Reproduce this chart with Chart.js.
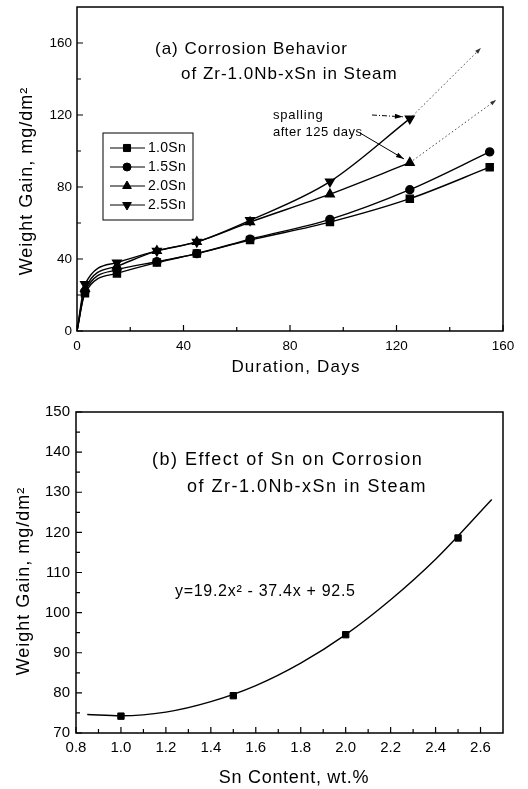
<!DOCTYPE html>
<html>
<head>
<meta charset="utf-8">
<script src="https://cdn.jsdelivr.net/npm/chart.js@4.4.0/dist/chart.umd.min.js"></script>
<style>
  html, body { margin: 0; padding: 0; background: #fff; }
  #wrap { position: relative; width: 528px; height: 789px; }
  canvas { position: absolute; left: 0; }
  #chart-a { top: 0; }
  #chart-b { top: 395px; }
</style>
</head>
<body>
<div id="wrap">
  <canvas id="chart-a" width="528" height="395"></canvas>
  <canvas id="chart-b" width="528" height="394"></canvas>
</div>
<script>
const FONT = "'Liberation Sans', Arial, sans-serif"

// (a) weight gain vs. duration
const days = [0, 3, 15, 30, 45, 65, 95, 125, 155]
const gain10Sn = [0, 21, 32, 38, 43, 50.5, 60.5, 73.5, 91]
const gain15Sn = [0, 22, 34, 38.5, 43, 51, 62, 78.5, 99.5]
const days20 = [0, 3, 15, 30, 45, 65, 95, 125]
const gain20Sn = [0, 23.5, 36, 44.5, 49.5, 60.5, 76, 93.5]
const gain25Sn = [0, 26, 38, 44.5, 49.5, 61.5, 83, 118]
// spalling extrapolation (dotted)
const spallDays25 = [125, 151.7]
const spallGain25 = [118, 157.2]
const spallDays20 = [125, 157.4]
const spallGain20 = [93.5, 128.3]
// note arrows: [x0, y0, x1, y1] in data units
const noteArrow25 = [110.8, 120, 122.4, 119]
const noteArrow20 = [106.3, 110, 122.8, 95.6]

// (b) weight gain vs. Sn content
const snContent = [1.0, 1.5, 2.0, 2.5]
const snGain = [74.2, 79.3, 94.5, 118.6]
const fitX = [0.85, 1.0, 1.2, 1.4, 1.6, 1.8, 2.0, 2.2, 2.4, 2.65]
const fitY = [74.6, 74.3, 75.2, 77.8, 81.8, 87.4, 94.5, 103.2, 113.3, 128.2]

const pts = (xs, ys) => xs.map((x, i) => ({ x, y: ys[i] }))

function drawText(ctx, text, x, y, size, spacing, align, rot) {
  ctx.save()
  ctx.font = size + 'px ' + FONT
  ctx.fillStyle = '#000'
  ctx.textAlign = align || 'left'
  ctx.textBaseline = 'middle'
  ctx.letterSpacing = (spacing || 0) + 'px'
  ctx.translate(x, y)
  if (rot) ctx.rotate(rot)
  ctx.fillText(text, 0, 0)
  ctx.restore()
}

function arrowHead(ctx, x0, y0, x1, y1, len, wid) {
  const a = Math.atan2(y1 - y0, x1 - x0)
  ctx.save()
  ctx.translate(x1, y1)
  ctx.rotate(a)
  ctx.beginPath()
  ctx.moveTo(0, 0)
  ctx.lineTo(-len, -wid / 2)
  ctx.lineTo(-len, wid / 2)
  ctx.closePath()
  ctx.fill()
  ctx.restore()
}

// frame + inward ticks (major from the scale, minor halfway)
const frameTicks = {
  id: 'frameTicks',
  afterDatasetsDraw(chart) {
    const { ctx, chartArea: a, scales } = chart
    ctx.save()
    ctx.strokeStyle = '#000'
    ctx.lineWidth = 1.5
    ctx.strokeRect(a.left, a.top, a.right - a.left, a.bottom - a.top)
    ctx.lineWidth = 1.2
    const tickSet = (scale, horiz) => {
      const vals = scale.ticks.map(t => t.value)
      const minors = []
      for (let i = 0; i < vals.length - 1; i++) minors.push((vals[i] + vals[i + 1]) / 2)
      ctx.beginPath()
      const mark = (v, len) => {
        const p = scale.getPixelForValue(v)
        if (horiz) { ctx.moveTo(p, a.bottom); ctx.lineTo(p, a.bottom - len) }
        else { ctx.moveTo(a.left, p); ctx.lineTo(a.left + len, p) }
      }
      vals.forEach(v => mark(v, 6))
      minors.forEach(v => mark(v, 4))
      ctx.stroke()
    }
    tickSet(scales.x, true)
    tickSet(scales.y, false)
    ctx.restore()
  }
}

function axisOpts(min, max, step, size, pad, fix, keep, fmt) {
  return {
    type: 'linear',
    min, max,
    grid: { display: false, drawTicks: false },
    border: { display: false },
    afterFit: s => {
      fix(s)
      s.paddingTop = 0; s.paddingBottom = 0
      s.paddingLeft = 0; s.paddingRight = 0
    },
    afterBuildTicks: s => { s.ticks = s.ticks.filter(t => keep(t.value)) },
    ticks: {
      stepSize: step,
      includeBounds: false,
      padding: pad,
      color: '#000',
      font: { family: FONT, size },
      callback: fmt || (v => v)
    }
  }
}

// ---------- chart (a) ----------
const seriesA = [
  { label: '1.0Sn', xs: days, ys: gain10Sn, style: 'rect', r: 5, rot: 0 },
  { label: '1.5Sn', xs: days, ys: gain15Sn, style: 'circle', r: 4, rot: 0 },
  { label: '2.0Sn', xs: days20, ys: gain20Sn, style: 'triangle', r: 5, rot: 0 },
  { label: '2.5Sn', xs: days20, ys: gain25Sn, style: 'triangle', r: 5, rot: 180 }
]

const annotA = {
  id: 'annotA',
  afterDatasetsDraw(chart) {
    const { ctx, scales: { x, y } } = chart
    // titles
    drawText(ctx, '(a) Corrosion Behavior', 155, 49, 17, 1)
    drawText(ctx, 'of Zr-1.0Nb-xSn in Steam', 181, 74, 17, 1)
    drawText(ctx, 'Duration, Days', 296, 367, 17, 1.2, 'center')
    drawText(ctx, 'Weight Gain, mg/dm\u00B2', 27, 181, 18, 1, 'center', -Math.PI / 2)
    // spalling note
    drawText(ctx, 'spalling', 273, 115, 13, 0.8)
    drawText(ctx, 'after 125 days', 273, 132, 13, 0.5)
    ctx.save()
    ctx.strokeStyle = '#000'
    ctx.fillStyle = '#000'
    ctx.lineWidth = 1
    const arrow = (c, dash) => {
      const x0 = x.getPixelForValue(c[0]), y0 = y.getPixelForValue(c[1])
      const x1 = x.getPixelForValue(c[2]), y1 = y.getPixelForValue(c[3])
      ctx.setLineDash(dash)
      ctx.beginPath(); ctx.moveTo(x0, y0); ctx.lineTo(x1, y1); ctx.stroke()
      ctx.setLineDash([])
      arrowHead(ctx, x0, y0, x1, y1, 8, 5)
    }
    arrow(noteArrow25, [5, 2, 1, 2])
    arrow(noteArrow20, [])
    // heads of the dotted extrapolations
    ctx.fillStyle = '#333'
    ;[[spallDays25, spallGain25], [spallDays20, spallGain20]].forEach(([xs, ys]) => {
      arrowHead(ctx, x.getPixelForValue(xs[0]), y.getPixelForValue(ys[0]),
        x.getPixelForValue(xs[1]), y.getPixelForValue(ys[1]), 6, 4)
    })
    ctx.restore()
    // legend box
    ctx.save()
    ctx.strokeStyle = '#000'
    ctx.lineWidth = 1
    ctx.strokeRect(103, 133, 90, 87)
    seriesA.forEach((s, i) => {
      const yy = 148 + i * 19
      ctx.beginPath(); ctx.moveTo(110, yy); ctx.lineTo(145, yy); ctx.stroke()
      ctx.fillStyle = '#000'
      Chart.helpers.drawPoint(ctx, { pointStyle: s.style, radius: s.r, rotation: s.rot, borderWidth: 1 }, 127, yy)
      drawText(ctx, s.label, 148, yy, 14, 0.3)
    })
    ctx.restore()
  }
}

const datasetsA = seriesA.map(s => ({
  label: s.label,
  data: pts(s.xs, s.ys),
  borderColor: '#000',
  backgroundColor: '#000',
  borderWidth: 1.4,
  pointStyle: s.style,
  pointRotation: s.rot,
  pointRadius: c => (c.raw && c.raw.x === 0 ? 0 : s.r),
  showLine: true,
  cubicInterpolationMode: 'monotone'
}))
;[[spallDays25, spallGain25], [spallDays20, spallGain20]].forEach(([xs, ys]) => {
  datasetsA.push({
    label: 'spalling',
    data: pts(xs, ys),
    borderColor: '#444',
    borderWidth: 1,
    borderDash: [1.5, 2.5],
    pointRadius: 0,
    showLine: true
  })
})

new Chart(document.getElementById('chart-a'), {
  type: 'scatter',
  data: { datasets: datasetsA },
  options: {
    responsive: false,
    animation: false,
    layout: { padding: { left: 0, right: 25, top: 7, bottom: 0 } },
    plugins: { legend: { display: false }, tooltip: { enabled: false } },
    scales: {
      x: axisOpts(0, 160, 40, 13.5, 7, s => { s.height = 64 }, v => v % 40 === 0),
      y: axisOpts(0, 180, 40, 13.5, 5, s => { s.width = 77 }, v => v % 40 === 0 && v <= 160)
    }
  },
  plugins: [frameTicks, annotA]
})

// ---------- chart (b) ----------
const annotB = {
  id: 'annotB',
  afterDatasetsDraw(chart) {
    const { ctx } = chart
    drawText(ctx, '(b) Effect of Sn on Corrosion', 152, 65, 18, 1.5)
    drawText(ctx, 'of Zr-1.0Nb-xSn in Steam', 187, 92, 18, 1.5)
    drawText(ctx, 'y=19.2x\u00B2 - 37.4x + 92.5', 175, 197, 16, 0.7)
    drawText(ctx, 'Sn Content, wt.%', 294, 383, 18, 0.7, 'center')
    drawText(ctx, 'Weight Gain, mg/dm\u00B2', 24, 186, 18, 1, 'center', -Math.PI / 2)
  }
}

const onTenth = v => Math.abs(v * 5 - Math.round(v * 5)) < 1e-6 && v < 2.65

new Chart(document.getElementById('chart-b'), {
  type: 'scatter',
  data: {
    datasets: [
      {
        label: 'Sn',
        data: pts(snContent, snGain),
        borderColor: '#000',
        backgroundColor: '#000',
        pointStyle: 'rect',
        pointRadius: 4.5,
        showLine: false
      },
      {
        label: 'fit',
        data: pts(fitX, fitY),
        borderColor: '#000',
        borderWidth: 1.4,
        pointRadius: 0,
        showLine: true,
        cubicInterpolationMode: 'monotone'
      }
    ]
  },
  options: {
    responsive: false,
    animation: false,
    layout: { padding: { left: 0, right: 25, top: 17, bottom: 0 } },
    plugins: { legend: { display: false }, tooltip: { enabled: false } },
    scales: {
      x: axisOpts(0.8, 2.7, 0.2, 15, 6, s => { s.height = 56 }, onTenth, v => v.toFixed(1)),
      y: axisOpts(70, 150, 10, 15, 6, s => { s.width = 76 }, v => v % 10 === 0)
    }
  },
  plugins: [frameTicks, annotB]
})
</script>
</body>
</html>
